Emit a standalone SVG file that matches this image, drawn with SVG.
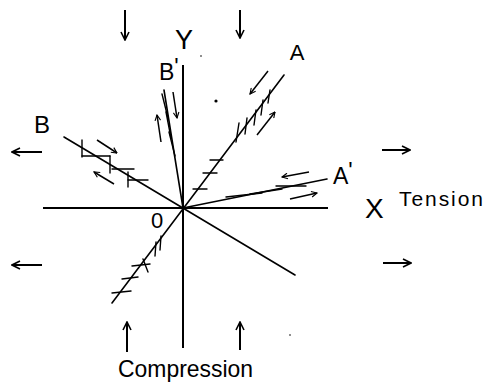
<svg xmlns="http://www.w3.org/2000/svg" width="486" height="384" viewBox="0 0 486 384">
<style>
.ln{stroke:#000;stroke-width:1.6;fill:none;stroke-linecap:round}
.ax{stroke:#000;stroke-width:2;fill:none}
.tk{stroke:#000;stroke-width:1.4;fill:none;stroke-linecap:round}
.ar{stroke:#000;stroke-width:1.5;fill:none;marker-end:url(#ah)}
.oa{stroke:#000;stroke-width:2;fill:none;marker-end:url(#oh)}
text{font-family:"Liberation Sans","DejaVu Sans",sans-serif;fill:#000}
</style>
<defs>
<marker id="ah" viewBox="0 0 10 10" refX="9" refY="5" markerWidth="7" markerHeight="7" orient="auto" markerUnits="userSpaceOnUse">
<path d="M1,1 L9,5 L1,9" fill="none" stroke="#000" stroke-width="1.6"/>
</marker>
<marker id="oh" viewBox="0 0 10 10" refX="9" refY="5" markerWidth="10" markerHeight="10" orient="auto" markerUnits="userSpaceOnUse">
<path d="M1,1 L9,5 L1,9" fill="none" stroke="#000" stroke-width="1.6"/>
</marker>
</defs>
<rect width="486" height="384" fill="#fff"/>
<g id="connectors">
<line class="ax" x1="43" y1="208" x2="328" y2="208"/>
<line class="ax" x1="183" y1="65" x2="183" y2="348"/>
<line class="ln" x1="112" y1="303" x2="284" y2="75"/>
<line class="ln" x1="183" y1="208" x2="327" y2="179"/>
<line class="ln" x1="64" y1="137" x2="295" y2="275"/>
<line class="ln" x1="183" y1="208" x2="164" y2="90"/>
</g>
<g id="ticks-A">
<line class="tk" x1="193" y1="189" x2="207" y2="189"/>
<line class="tk" x1="203" y1="173" x2="217" y2="173"/>
<line class="tk" x1="210" y1="160" x2="223" y2="160"/>
<line class="tk" x1="236" y1="142" x2="239" y2="123"/>
<line class="tk" x1="245" y1="134" x2="247" y2="118"/>
<line class="tk" x1="254" y1="125" x2="256" y2="110"/>
<line class="tk" x1="261" y1="115" x2="263" y2="100"/>
<line class="tk" x1="268" y1="103" x2="270" y2="90"/>
<line class="ar" x1="268" y1="71" x2="250" y2="94"/>
<line class="ar" x1="257" y1="135" x2="275" y2="112"/>
<line class="tk" x1="160" y1="250" x2="161" y2="236"/>
<line class="tk" x1="155" y1="256" x2="156" y2="242"/>
<line class="tk" x1="143" y1="259" x2="148" y2="272"/>
<line class="tk" x1="132" y1="266" x2="150" y2="264"/>
<line class="tk" x1="122" y1="279" x2="138" y2="277"/>
<line class="tk" x1="112" y1="293" x2="131" y2="291"/>
</g>
<g id="ticks-A2">
<line class="tk" x1="226" y1="197" x2="262" y2="193"/>
<line class="tk" x1="250" y1="194" x2="282" y2="189"/>
<line class="tk" x1="276" y1="186" x2="306" y2="186"/>
<line class="ar" x1="309" y1="172" x2="282" y2="177"/>
<line class="ar" x1="290" y1="199" x2="317" y2="193"/>
</g>
<g id="ticks-B">
<line class="tk" x1="82" y1="140" x2="82" y2="157"/>
<line class="tk" x1="82" y1="156" x2="110" y2="156"/>
<line class="tk" x1="110" y1="156" x2="110" y2="173"/>
<line class="tk" x1="112" y1="169" x2="134" y2="169"/>
<line class="tk" x1="128" y1="172" x2="128" y2="187"/>
<line class="tk" x1="128" y1="180" x2="148" y2="180"/>
<line class="ar" x1="97" y1="140" x2="117" y2="153"/>
<line class="ar" x1="114" y1="184" x2="94" y2="172"/>
</g>
<g id="ticks-B2">
<line class="tk" x1="162" y1="94" x2="168" y2="118"/>
<line class="tk" x1="166" y1="112" x2="171" y2="138"/>
<line class="tk" x1="169" y1="132" x2="175" y2="156"/>
<line class="ar" x1="173" y1="92" x2="177" y2="118"/>
<line class="ar" x1="161" y1="142" x2="157" y2="115"/>
</g>
<g id="loads">
<line class="oa" x1="125" y1="10" x2="125" y2="40"/>
<line class="oa" x1="240" y1="10" x2="240" y2="38"/>
<line class="oa" x1="127" y1="352" x2="127" y2="322"/>
<line class="oa" x1="240" y1="350" x2="240" y2="322"/>
<line class="oa" x1="42" y1="152" x2="12" y2="152"/>
<line class="oa" x1="42" y1="265" x2="12" y2="265"/>
<line class="oa" x1="382" y1="150" x2="410" y2="150"/>
<line class="oa" x1="383" y1="263" x2="411" y2="263"/>
</g>
<g id="specks">
<circle cx="216" cy="101" r="1.6"/>
<circle cx="201" cy="56" r="0.8"/>
<circle cx="290" cy="335" r="0.8"/>
</g>
<g id="label-Y"><text x="184" y="49" font-size="27" text-anchor="middle">Y</text></g>
<g id="label-A"><text x="297" y="60" font-size="22" text-anchor="middle">A</text></g>
<g id="label-B1"><text x="159" y="80" font-size="23">B<tspan dy="-5">'</tspan></text></g>
<g id="label-B"><text x="34" y="133" font-size="24">B</text></g>
<g id="label-A1"><text x="333" y="184" font-size="23">A<tspan dy="-5">'</tspan></text></g>
<g id="label-X"><text x="365" y="218" font-size="28">X</text></g>
<g id="label-tension"><text x="399" y="206" font-size="21" textLength="84" lengthAdjust="spacing">Tension</text></g>
<g id="label-O"><text x="151" y="228" font-size="22">0</text></g>
<g id="label-compression"><text x="118" y="377" font-size="24" textLength="135" lengthAdjust="spacingAndGlyphs">Compression</text></g>
</svg>
